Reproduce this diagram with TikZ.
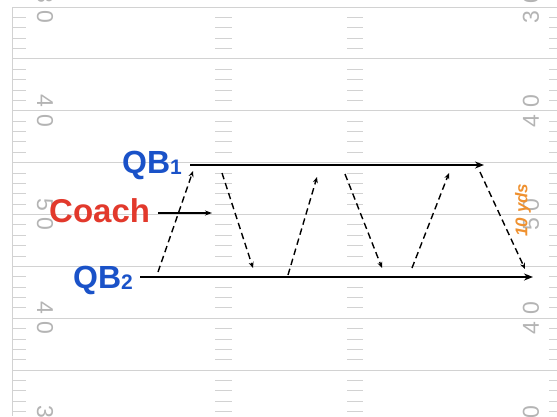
\documentclass[tikz,border=0pt]{standalone}
\usepackage{fontspec}
\setsansfont{Liberation Sans}
\usetikzlibrary{arrows.meta}

\definecolor{qbblue}{HTML}{1A52C8}
\definecolor{coachred}{HTML}{E2392C}
\definecolor{yardorange}{HTML}{EF9130}
\definecolor{turfline}{HTML}{D2D2D2}
\definecolor{turfnum}{HTML}{B4B4B4}

\newcommand{\qbsub}[1]{\raisebox{-1pt}{\fontsize{21}{21}\selectfont #1}}

\tikzset{
  yardline/.style={draw=turfline, line width=0.9pt},
  hashmark/.style={draw=turfline, line width=0.9pt},
  yardnum/.style={text=turfnum, font=\sffamily\fontsize{23}{23}\selectfont, inner sep=0pt},
  who/.style={font=\sffamily\bfseries\fontsize{32}{32}\selectfont, inner sep=0pt, anchor=base west},
  run/.style={line width=2.4pt, -{Stealth[length=9pt,width=7pt]}},
  pass/.style={line width=1.3pt, -{Stealth[length=7pt,width=5pt]}},
  toss/.style={line width=1.4pt, dash pattern=on 6.5pt off 4pt, -{Stealth[length=6pt,width=5pt]}},
}

\begin{document}
\begin{tikzpicture}[x=1pt,y=-1pt]
	\useasboundingbox (0,0) rectangle (557,416);
	\clip (0,0) rectangle (557,416);

	% Field: a yard line every 5 yds, one-yard ticks in between
	\foreach \i in {0,...,8} {
		\pgfmathsetmacro{\yy}{7+51.875*\i}
		\draw[yardline] (12,\yy) -- (557,\yy);
		\foreach \k in {1,...,4} {
			\pgfmathsetmacro{\ty}{\yy+10.375*\k}
			\draw[hashmark] (12,\ty) -- (26,\ty);
			\draw[hashmark] (215,\ty) -- (232,\ty);
			\draw[hashmark] (347,\ty) -- (363,\ty);
			\draw[hashmark] (549,\ty) -- (557,\ty);
		}
	}
	\draw[yardline] (12,7) -- (12,416);

	% Yard numbers on both sidelines
	\foreach \i/\n in {0/3,2/4,4/5,6/4,8/3} {
		\pgfmathsetmacro{\yy}{7+51.875*\i}
		\node[yardnum, rotate=-90] (ln\i) at (45,\yy) {\n\kern7pt0};
		\node[yardnum, rotate=90] (rn\i) at (531,\yy) {\n\kern7pt0};
	}

	% Define nodes with their coordinates
	\node[who, text=qbblue] (qb1) at (122,173) {QB\qbsub{1}};
	\node[who, text=coachred, font=\sffamily\bfseries\fontsize{33}{33}\selectfont] (coach) at (49,222) {Coach};
	\node[who, text=qbblue] (qb2) at (73,288) {QB\qbsub{2}};
	\node[text=yardorange, font=\sffamily\bfseries\itshape\fontsize{17}{17}\selectfont, rotate=90] (yds) at (523,210) {10 yds};

	\coordinate (qb1end) at (484,165);
	\coordinate (qb2end) at (533,277);
	\coordinate (coachend) at (212,213);

	% Zigzag of the ball between the two lines
	\coordinate (lo1) at (158,272); \coordinate (hi1) at (193,171);
	\coordinate (hi2) at (222,173); \coordinate (lo2) at (253,268);
	\coordinate (lo3) at (288,275); \coordinate (hi3) at (317,177);
	\coordinate (hi4) at (345,174); \coordinate (lo4) at (382,268);
	\coordinate (lo5) at (412,268); \coordinate (hi5) at (449,173);
	\coordinate (hi6) at (480,172); \coordinate (lo6) at (525,269);

	% Draw runs and passes
	\draw[run] ([xshift=8pt]qb1.east |- qb1end) -- (qb1end);
	\draw[run] ([xshift=7pt]qb2.east |- qb2end) -- (qb2end);
	\draw[pass] ([xshift=8pt]coach.east |- coachend) -- (coachend);

	\draw[toss] (lo1) -- (hi1);
	\draw[toss] (hi2) -- (lo2);
	\draw[toss] (lo3) -- (hi3);
	\draw[toss] (hi4) -- (lo4);
	\draw[toss] (lo5) -- (hi5);
	\draw[toss] (hi6) -- (lo6);

\end{tikzpicture}
\end{document}
